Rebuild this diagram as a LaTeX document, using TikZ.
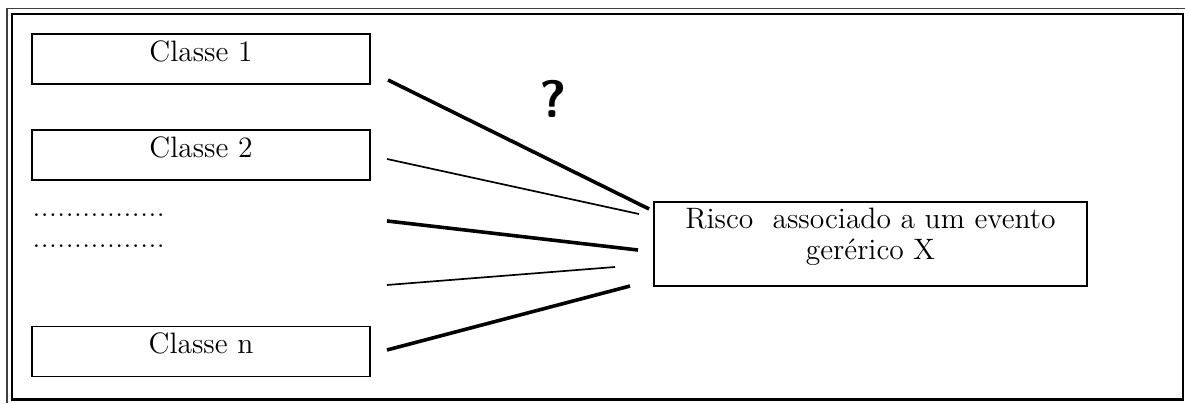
\documentclass[tikz,border=0pt]{standalone}
\usepackage{tikz}

\begin{document}
\begin{tikzpicture}[
  classbox/.style={draw, line width=0.7pt, minimum width=5.63cm, inner ysep=0pt, text height=0.45cm, text depth=0.38cm, font=\fontsize{14}{14.7}\selectfont},
  riskbox/.style={draw, line width=0.7pt, minimum width=7.22cm, minimum height=1.4cm},
  risktext/.style={align=center, inner sep=0pt, font=\fontsize{14}{14.7}\selectfont},
  leader/.style={anchor=base west, inner sep=0pt, font=\fontsize{15.7}{16}\selectfont},
  heavy/.style={line width=1.7pt},
  light/.style={line width=0.8pt},
  qmark/.style={font=\fontsize{25}{25}\selectfont\sffamily\bfseries}
]

\useasboundingbox (0,0) rectangle (19.75,-6.717);

% page frame
\draw[line width=0.5pt, black!75] (0.117,-6.717) -- (0.117,-0.142) -- (19.75,-0.142);
\draw[line width=1.1pt] (0.2,-0.233) rectangle (19.717,-6.658);

\node[classbox] (c1) at (3.35, -0.983) {Classe 1};
\node[classbox] (c2) at (3.35, -2.583) {Classe 2};
\node[leader] (dots1) at (0.533, -3.608) {................};
\node[leader] (dots2) at (0.533, -4.133) {................};
\node[classbox] (cn) at (3.35, -5.858) {Classe n};

\node[riskbox] (risco) at (14.508, -4.067) {};
\node[risktext, anchor=north] (riscotext) at ([yshift=-0.1cm]risco.north) {Risco\ \ associado a um evento\\gerérico X};

\node[qmark] (q) at (9.217, -1.65) {?};

\coordinate (a1) at (6.467, -1.333);
\coordinate (b1) at (10.817, -3.483);
\coordinate (a2) at (6.45, -2.65);
\coordinate (b2) at (10.65, -3.567);
\coordinate (a3) at (6.45, -3.683);
\coordinate (b3) at (10.633, -4.167);
\coordinate (a4) at (6.45, -4.75);
\coordinate (b4) at (10.25, -4.45);
\coordinate (a5) at (6.45, -5.833);
\coordinate (b5) at (10.5, -4.767);

\draw[heavy] (a1) -- (b1);
\draw[light] (a2) -- (b2);
\draw[heavy] (a3) -- (b3);
\draw[light] (a4) -- (b4);
\draw[heavy] (a5) -- (b5);

\end{tikzpicture}
\end{document}
